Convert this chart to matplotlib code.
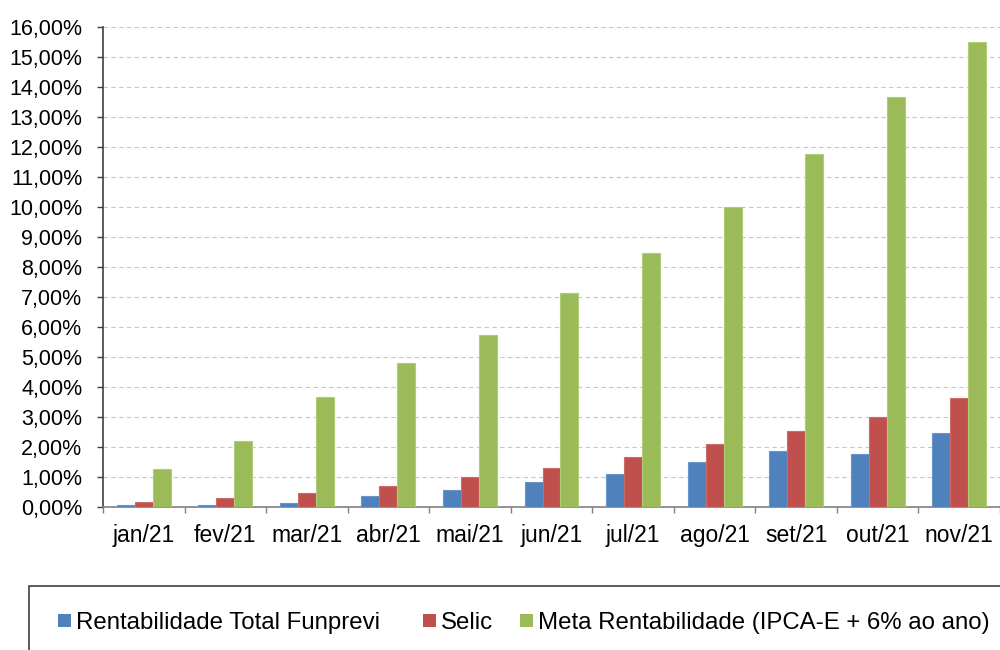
import matplotlib
matplotlib.use("Agg")
import matplotlib.pyplot as plt
import numpy as np
from matplotlib.patches import Rectangle
from matplotlib.ticker import FuncFormatter, MultipleLocator, FixedLocator

plt.rcParams['font.family'] = ['Liberation Sans', 'DejaVu Sans']

categories = ["jan/21", "fev/21", "mar/21", "abr/21", "mai/21", "jun/21",
              "jul/21", "ago/21", "set/21", "out/21", "nov/21"]
funprevi = [0.05, 0.05, 0.12, 0.37, 0.56, 0.82, 1.10, 1.49, 1.88, 1.76, 2.46]
selic = [0.17, 0.29, 0.48, 0.71, 0.99, 1.30, 1.66, 2.11, 2.54, 3.01, 3.63]
meta = [1.26, 2.19, 3.68, 4.80, 5.74, 7.13, 8.47, 10.00, 11.77, 13.67, 15.50]
series_names = ["Rentabilidade Total Funprevi", "Selic",
                "Meta Rentabilidade (IPCA-E + 6% ao ano)"]
colors = ["#4F81BD", "#C0504D", "#9BBB59"]
edge_colors = ["#6a95c8", "#cc6c69", "#b0cc78"]

W, H = 1000, 650
fig = plt.figure(figsize=(10, 6.5), dpi=100)
ax = fig.add_axes([0.103, 0.22, 0.897, 0.7385])

x = np.arange(len(categories))
w = 0.22
for i, (vals, c, ec, name) in enumerate(zip([funprevi, selic, meta], colors, edge_colors, series_names)):
    ax.bar(x + (i - 1) * w, vals, width=w, color=c, label=name, zorder=3,
           edgecolor=ec, linewidth=0.8)

ax.set_xlim(-0.5, len(categories) - 0.5)
ax.set_ylim(0, 16)
ax.yaxis.set_major_locator(MultipleLocator(1))
ax.yaxis.set_major_formatter(FuncFormatter(lambda v, p: f"{v:.2f}".replace(".", ",") + "%"))
ax.yaxis.grid(True, linestyle=(0, (4, 3)), color="#c8c8c8", linewidth=0.8, zorder=0)

ax.set_xticks(x)
ax.set_xticklabels(categories)
ax.xaxis.set_minor_locator(FixedLocator(np.arange(-0.5, len(categories), 1)))
ax.tick_params(axis='x', which='major', length=0, pad=12, labelsize=16.5)
ax.tick_params(axis='x', which='minor', length=4.5, color="#808080", width=1)
ax.tick_params(axis='y', which='major', length=4.5, width=1, color="#404040",
               labelsize=15.5, pad=10.5)

for s in ["top", "right"]:
    ax.spines[s].set_visible(False)
ax.spines["left"].set_color("#404040")
ax.spines["left"].set_linewidth(1.2)
ax.spines["bottom"].set_color("#808080")
ax.spines["bottom"].set_linewidth(1.2)

# legend box (clipped at right/bottom like the reference)
fig.patches.append(Rectangle((29 / W, -0.05), 1.1, 1 - 586 / H + 0.05,
                             transform=fig.transFigure, fill=False,
                             edgecolor="#404040", linewidth=1.2))

# manual legend so all labels share one baseline
handle_x = [58, 423, 520]   # left edge of each legend swatch, px
sw = 13                      # swatch size, px
baseline = 629
for hx, c, name in zip(handle_x, colors, series_names):
    fig.patches.append(Rectangle((hx / W, 1 - (baseline - 2) / H), sw / W, sw / H,
                                 transform=fig.transFigure, facecolor=c,
                                 edgecolor="none"))
    fig.text((hx + sw + 5) / W, 1 - baseline / H, name, fontsize=17.3,
             va="baseline", ha="left", color="#000000")

fig.savefig("out.png", dpi=100)
